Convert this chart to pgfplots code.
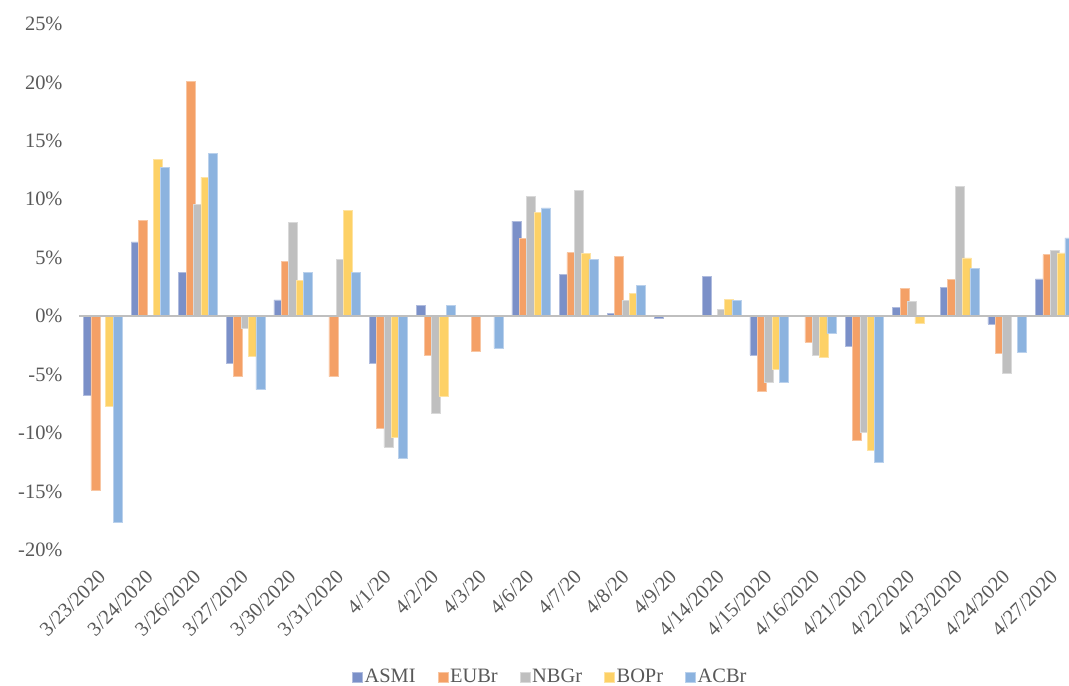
\documentclass[border=0pt]{standalone}
\usepackage{pgfplots}
\pgfplotsset{compat=1.18}
\usepackage{pgfplotstable}
\usepackage{fontspec}
\setmainfont{Liberation Serif}
\definecolor{cA}{HTML}{7B90C8}
\definecolor{cB}{HTML}{F4A066}
\definecolor{cC}{HTML}{BFBFBF}
\definecolor{cD}{HTML}{FDD166}
\definecolor{cE}{HTML}{8CB3DF}
\definecolor{txt}{HTML}{595959}
\pgfplotstableread{
x ASMI EUBr NBGr BOPr ACBr
0 -6.8 -14.85 0 -7.68 -17.6
1 6.36 8.23 0 13.41 12.75
2 3.73 20.12 9.54 11.9 13.96
3 -4.01 -5.16 -1.0 -3.41 -6.28
4 1.4 4.7 8.03 3.04 3.78
5 0 -5.16 4.87 9.03 3.78
6 -4.01 -9.6 -11.18 -10.32 -12.12
7 0.92 -3.33 -8.28 -6.82 0.95
8 0 -3.01 0 0 -2.75
9 8.14 6.68 10.26 8.88 9.26
10 3.6 5.44 10.75 5.36 4.84
11 0.23 5.13 1.35 1.98 2.67
12 -0.2 0 0 0 0
13 3.38 0 0.6 1.46 1.38
14 -3.33 -6.45 -5.67 -4.5 -5.65
15 0 -2.21 -3.35 -3.47 -1.49
16 -2.61 -10.6 -9.89 -11.46 -12.53
17 0.74 2.41 1.29 -0.6 0
18 2.49 3.15 11.12 4.99 4.1
19 -0.66 -3.21 -4.85 0 -3.1
20 3.2 5.27 5.65 5.42 6.7
}\data
\begin{document}
\begin{tikzpicture}
\begin{axis}[
  scale only axis,
  width=990bp, height=526bp,
  xmin=-0.5, xmax=20.3,
  ymin=-20, ymax=25,
  axis line style={draw=none},
  major tick length=0pt,
  ytick={-20,-15,...,25},
  yticklabels={-20\%,-15\%,-10\%,-5\%,0\%,5\%,10\%,15\%,20\%,25\%},
  xtick={0,...,20},
  xticklabels={3/23/2020,3/24/2020,3/26/2020,3/27/2020,3/30/2020,3/31/2020,4/1/20,4/2/20,4/3/20,4/6/20,4/7/20,4/8/20,4/9/20,4/14/2020,4/15/2020,4/16/2020,4/21/2020,4/22/2020,4/23/2020,4/24/2020,4/27/2020},
  tick label style={font=\fontsize{20.5}{24}\selectfont, text=txt},
  yticklabel style={xshift=-13bp},
  xticklabel style={rotate=45, anchor=north east, xshift=-14bp, yshift=-5.7bp},
  ybar,
  bar width=0.19,
  legend style={at={(0.476,-0.241)}, anchor=center, draw=none, legend columns=5,
    font=\fontsize{20.5}{24}\selectfont, text=txt,
    /tikz/every even column/.append style={column sep=20bp}},
  legend image code/.code={\fill[#1] (0bp,-5bp) rectangle (10bp,5bp);},
]
\addplot[fill=cA, draw=cA!60!white, line width=0.5pt, bar shift=-0.31] table[x=x,y=ASMI]{\data};
\addplot[fill=cB, draw=cB!60!white, line width=0.5pt, bar shift=-0.155] table[x=x,y=EUBr]{\data};
\addplot[fill=cC, draw=cC!60!white, line width=0.5pt, bar shift=0] table[x=x,y=NBGr]{\data};
\addplot[fill=cD, draw=cD!60!white, line width=0.5pt, bar shift=0.155] table[x=x,y=BOPr]{\data};
\addplot[fill=cE, draw=cE!60!white, line width=0.5pt, bar shift=0.31] table[x=x,y=ACBr]{\data};
\legend{ASMI,EUBr,NBGr,BOPr,ACBr}
\draw[cC, line width=2.2bp] (axis cs:-0.5,0) -- (axis cs:20.3,0);
\end{axis}
\pgfresetboundingbox
\path (-79bp,-136bp) rectangle (990bp,550bp);
\end{tikzpicture}
\end{document}
